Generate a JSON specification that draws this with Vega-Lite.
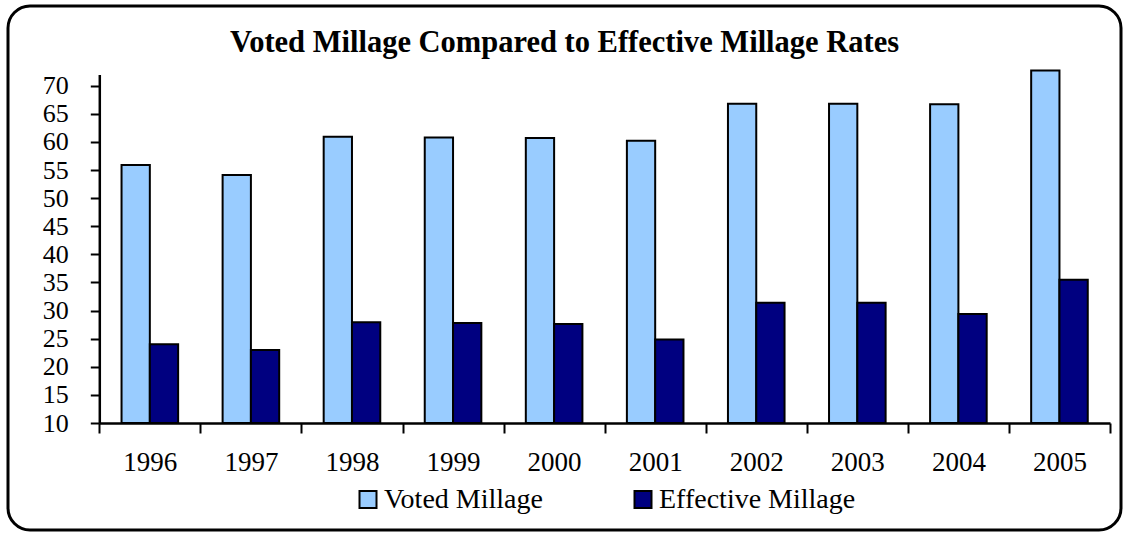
{
  "$schema": "https://vega.github.io/schema/vega-lite/v6.json",
  "width": 1113,
  "height": 524,
  "autosize": {"type": "none"},
  "padding": {"left": 8, "top": 6, "right": 6, "bottom": 3},
  "background": "white",
  "config": {
    "view": {"stroke": "black", "strokeWidth": 3, "cornerRadius": 22, "fill": "white"},
    "font": "Liberation Serif"
  },
  "title": {
    "text": "Voted Millage Compared to Effective Millage Rates",
    "font": "Liberation Serif",
    "fontSize": 30.5,
    "fontWeight": "bold",
    "color": "black",
    "anchor": "middle",
    "frame": "group",
    "offset": -44,
    "dy": 32,
    "baseline": "alphabetic"
  },
  "data": {
    "values": [
      {"year": "1996", "series": "Voted Millage", "millage": 55.9},
      {"year": "1997", "series": "Voted Millage", "millage": 54.1},
      {"year": "1998", "series": "Voted Millage", "millage": 60.9},
      {"year": "1999", "series": "Voted Millage", "millage": 60.8},
      {"year": "2000", "series": "Voted Millage", "millage": 60.7},
      {"year": "2001", "series": "Voted Millage", "millage": 60.2},
      {"year": "2002", "series": "Voted Millage", "millage": 66.8},
      {"year": "2003", "series": "Voted Millage", "millage": 66.8},
      {"year": "2004", "series": "Voted Millage", "millage": 66.7},
      {"year": "2005", "series": "Voted Millage", "millage": 72.7},
      {"year": "1996", "series": "Effective Millage", "millage": 24.0},
      {"year": "1997", "series": "Effective Millage", "millage": 23.0},
      {"year": "1998", "series": "Effective Millage", "millage": 27.9},
      {"year": "1999", "series": "Effective Millage", "millage": 27.8},
      {"year": "2000", "series": "Effective Millage", "millage": 27.6},
      {"year": "2001", "series": "Effective Millage", "millage": 24.85},
      {"year": "2002", "series": "Effective Millage", "millage": 31.4},
      {"year": "2003", "series": "Effective Millage", "millage": 31.4},
      {"year": "2004", "series": "Effective Millage", "millage": 29.4},
      {"year": "2005", "series": "Effective Millage", "millage": 35.5}
    ]
  },
  "mark": {"type": "bar", "stroke": "black", "strokeWidth": 2},
  "encoding": {
    "x": {
      "field": "year",
      "type": "nominal",
      "scale": {"range": [91.3, 1102], "paddingInner": 0, "paddingOuter": 0},
      "axis": {
        "title": null,
        "orient": "bottom",
        "offset": -107,
        "domainColor": "black",
        "domainWidth": 2.5,
        "tickColor": "black",
        "tickWidth": 2,
        "tickSize": 10,
        "tickBand": "extent",
        "labelAngle": 0,
        "labelFont": "Liberation Serif",
        "labelFontSize": 27,
        "labelColor": "black",
        "labelPadding": 16,
        "grid": false
      }
    },
    "xOffset": {
      "field": "series",
      "sort": ["Voted Millage", "Effective Millage"],
      "scale": {"paddingInner": 0, "paddingOuter": 0.786}
    },
    "y": {
      "field": "millage",
      "type": "quantitative",
      "scale": {"domain": [10, 72], "range": [417, 68.45], "zero": false, "nice": false},
      "axis": {
        "title": null,
        "values": [10, 15, 20, 25, 30, 35, 40, 45, 50, 55, 60, 65, 70],
        "offset": -91.3,
        "domainColor": "black",
        "domainWidth": 2.5,
        "tickColor": "black",
        "tickWidth": 2,
        "tickSize": 9,
        "labelFont": "Liberation Serif",
        "labelFontSize": 26,
        "labelColor": "black",
        "labelPadding": 22,
        "grid": false
      }
    },
    "y2": {"datum": 10},
    "color": {
      "field": "series",
      "type": "nominal",
      "scale": {"domain": ["Voted Millage", "Effective Millage"], "range": ["#99CCFF", "#000080"]},
      "legend": {
        "title": null,
        "orient": "none",
        "legendX": 346,
        "legendY": 479.5,
        "direction": "horizontal",
        "symbolType": "square",
        "symbolSize": 289,
        "symbolStrokeColor": "black",
        "symbolStrokeWidth": 2,
        "symbolOpacity": 1,
        "labelFont": "Liberation Serif",
        "labelFontSize": 28,
        "labelColor": "black",
        "labelOffset": 2,
        "labelLimit": 400,
        "columnPadding": 86,
        "padding": 0
      }
    }
  }
}
